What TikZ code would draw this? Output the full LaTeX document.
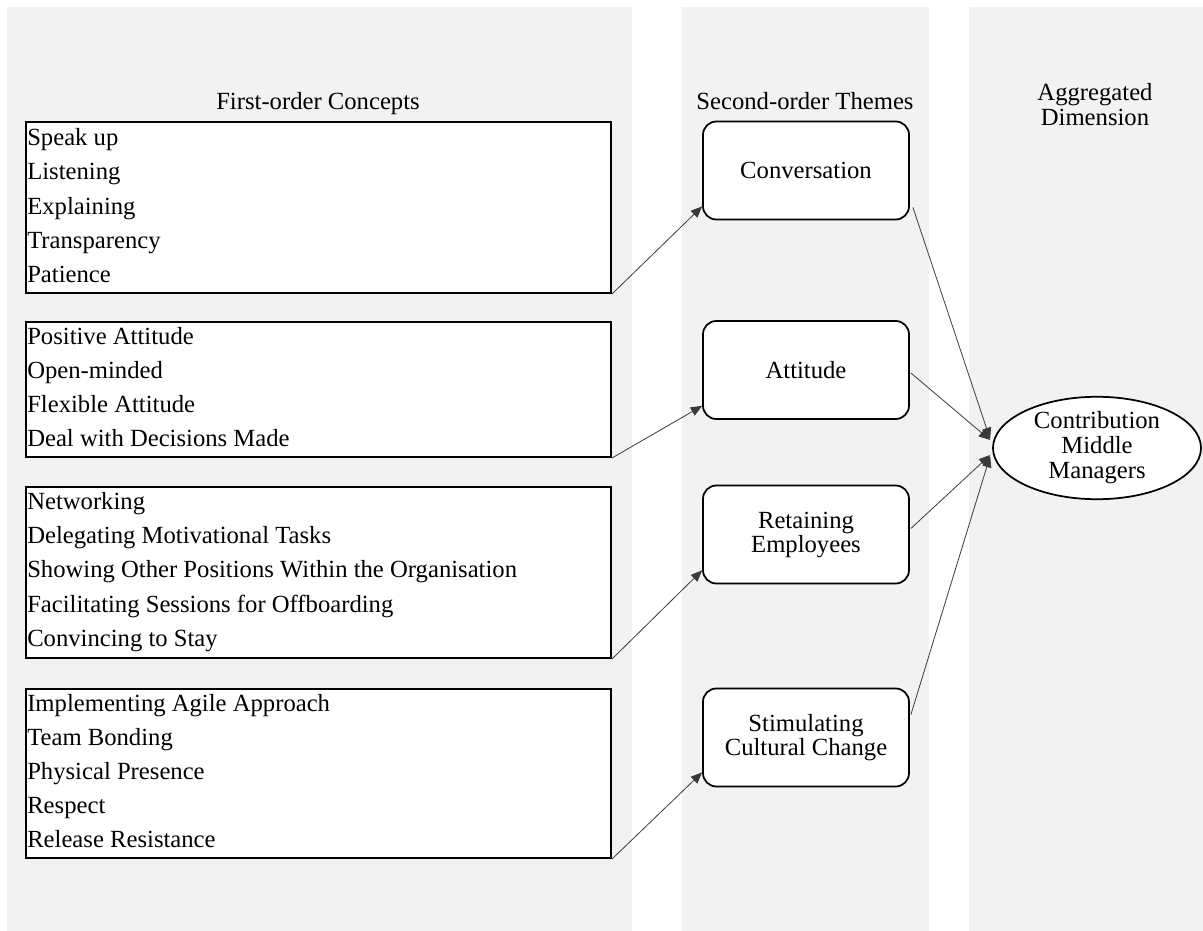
\documentclass[tikz,border=0pt]{standalone}
\usepackage{fontspec}
\setmainfont{Liberation Serif}
\usetikzlibrary{shapes.geometric,arrows.meta,calc}
\definecolor{panel}{HTML}{F2F2F2}
\definecolor{wire}{HTML}{3A3A3A}
\newcommand{\txtfont}{\fontsize{18.5}{18}\selectfont}
\tikzset{
  headtext/.style={font=\txtfont, inner sep=0pt, anchor=base},
  conceptbox/.style={draw=black, line width=1.5pt, fill=white, rectangle,
    minimum width=438.75pt, anchor=north west, inner sep=0pt},
  item/.style={font=\txtfont, anchor=base west, inner sep=0pt},
  theme/.style={draw=black, line width=1.3pt, fill=white, rounded corners=10pt,
    minimum width=154.5pt, minimum height=73.5pt, align=center,
    font=\txtfont, inner sep=0pt},
  dimension/.style={ellipse, draw=black, line width=1.3pt, fill=white,
    minimum width=156pt, minimum height=73.5pt, align=center,
    font=\fontsize{18.5}{18.75}\selectfont, inner sep=0pt},
  link/.style={draw=wire, line width=0.6pt, -{Triangle[length=8.5pt,width=7pt]}},
}
\begin{document}
\begin{tikzpicture}[x=0.75pt, y=-0.75pt]
\useasboundingbox (0,0) rectangle (1203,931);

% column panels
\fill[panel] (7,7) rectangle (632,931);
\fill[panel] (682,7) rectangle (929,931);
\fill[panel] (969,7) rectangle (1203,931);

% column headings
\node[headtext] (h1) at (318,109) {First-order Concepts};
\node[headtext] (h2) at (805,109) {Second-order Themes};
\node[headtext] (h3a) at (1095,101) {Aggregated};
\node[headtext] (h3b) at (1095,125) {Dimension};

% first-order concepts
\node[conceptbox, minimum height=128.25pt] (c1) at (25,121) {};
\node[item] (c1a) at (27,145) {Speak up};
\node[item] (c1b) at (27,179) {Listening};
\node[item] (c1c) at (27,214) {Explaining};
\node[item] (c1d) at (27,248) {Transparency};
\node[item] (c1e) at (27,282) {Patience};

\node[conceptbox, minimum height=101.25pt] (c2) at (25,321) {};
\node[item] (c2a) at (27,344) {Positive Attitude};
\node[item] (c2b) at (27,378) {Open-minded};
\node[item] (c2c) at (27,412) {Flexible Attitude};
\node[item] (c2d) at (27,446) {Deal with Decisions Made};

\node[conceptbox, minimum height=128.25pt] (c3) at (25,486) {};
\node[item] (c3a) at (27,509) {Networking};
\node[item] (c3b) at (27,543) {Delegating Motivational Tasks};
\node[item] (c3c) at (27,577) {Showing Other Positions Within the Organisation};
\node[item] (c3d) at (27,612) {Facilitating Sessions for Offboarding};
\node[item] (c3e) at (27,646) {Convincing to Stay};

\node[conceptbox, minimum height=126.75pt] (c4) at (25,688) {};
\node[item] (c4a) at (27,711) {Implementing Agile Approach};
\node[item] (c4b) at (27,745) {Team Bonding};
\node[item] (c4c) at (27,779) {Physical Presence};
\node[item] (c4d) at (27,813) {Respect};
\node[item] (c4e) at (27,847) {Release Resistance};

% second-order themes
\node[theme] (t1) at (806,170.5) {Conversation};
\node[theme] (t2) at (806,370) {Attitude};
\node[theme] (t3) at (806,534.5) {Retaining\\Employees};
\node[theme] (t4) at (806,737.5) {Stimulating\\Cultural Change};

% aggregated dimension
\node[dimension] (cm) at (1097,448) {Contribution\\Middle\\Managers};

% concepts to themes
\draw[link] (c1.south east) -- ($(t1.south west)+(0,-14)$);
\draw[link] (c2.south east) -- ($(t2.south west)+(0,-14)$);
\draw[link] (c3.south east) -- ($(t3.south west)+(0,-14)$);
\draw[link] (c4.south east) -- ($(t4.south west)+(0,-15)$);

% themes to dimension
\draw[link] ($(t1.south east)+(3,-13)$) -- ($(cm.west)+(-2,-9)$);
\draw[link] ($(t2.east)+(1,3)$) -- ($(cm.west)+(-2,-8)$);
\draw[link] ($(t3.east)+(1,-6)$) -- ($(cm.west)+(-2,7)$);
\draw[link] ($(t4.north east)+(1,27)$) -- ($(cm.west)+(-2,8)$);
\end{tikzpicture}
\end{document}
